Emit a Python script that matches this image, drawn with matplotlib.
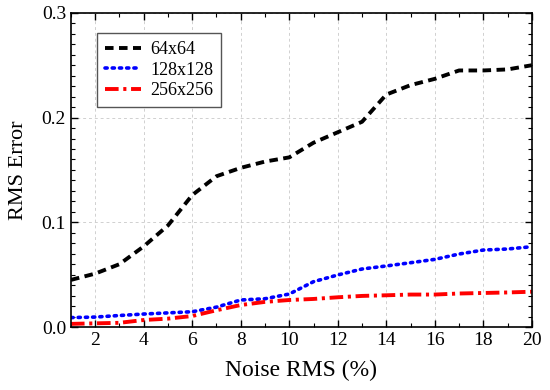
import numpy as np
import matplotlib
matplotlib.use("Agg")
import matplotlib.pyplot as plt
from matplotlib.ticker import MultipleLocator, FormatStrFormatter

noise = [1, 2, 3, 4, 5, 6, 7, 8, 9, 10, 11, 12, 13, 14, 15, 16, 17, 18, 19, 20]
err_64 = [0.045, 0.051, 0.060, 0.077, 0.097, 0.126, 0.144, 0.152, 0.158, 0.162,
          0.176, 0.186, 0.196, 0.222, 0.231, 0.237, 0.245, 0.245, 0.246, 0.250]
err_128 = [0.009, 0.0095, 0.011, 0.0124, 0.0135, 0.0146, 0.019, 0.0258, 0.027, 0.0315,
           0.0433, 0.0497, 0.0554, 0.0583, 0.0614, 0.0646, 0.0697, 0.0735, 0.0745, 0.0767]
err_256 = [0.003, 0.0035, 0.004, 0.0067, 0.008, 0.0105, 0.016, 0.021, 0.024, 0.0258,
           0.0268, 0.0284, 0.0297, 0.0303, 0.031, 0.031, 0.032, 0.0325, 0.033, 0.0337]
labels = ["64x64", "128x128", "256x256"]

plt.rcParams['font.family'] = ['Liberation Serif', 'DejaVu Serif']

fig = plt.figure(figsize=(5.5, 3.9), dpi=100)
ax = fig.add_axes([0.129, 0.1615, 0.838, 0.8055])

ax.plot(noise, err_64, color='black', linestyle=(0, (2.2, 1.4)), lw=2.8, label=labels[0])
ax.plot(noise, err_128, color='blue', linestyle=(0, (0.6, 1.4)), lw=2.6,
        dash_capstyle='round', label=labels[1])
ax.plot(noise, err_256, color='red', linestyle=(0, (3.5, 1.2, 0.8, 1.2)), lw=2.8,
        label=labels[2])

ax.set_xlim(1, 20)
ax.set_ylim(0, 0.3)
ax.xaxis.set_major_locator(MultipleLocator(2))
ax.xaxis.set_minor_locator(MultipleLocator(1))
ax.yaxis.set_major_locator(MultipleLocator(0.1))
ax.yaxis.set_minor_locator(MultipleLocator(0.01))
ax.yaxis.set_major_formatter(FormatStrFormatter('%.1f'))
ax.tick_params(which='both', direction='in', top=True, right=True, labelsize=14)
ax.tick_params(which='major', length=5, width=1)
ax.tick_params(which='minor', length=3, width=0.8)
for s in ax.spines.values():
    s.set_linewidth(1.2)
ax.grid(True, which='major', linestyle=(0, (3, 3)), color='#d0d0d0', lw=0.7)

ax.set_xlabel("Noise RMS (%)", fontsize=17, labelpad=8)
ax.set_ylabel("RMS Error", fontsize=16, labelpad=10)

leg = ax.legend(loc='upper left', bbox_to_anchor=(0.056, 0.936), borderaxespad=0,
                fontsize=13, fancybox=False, edgecolor='#555555', handlelength=2.0,
                handletextpad=0.5, borderpad=0.45, labelspacing=0.2, framealpha=1)
leg.get_frame().set_linewidth(1.0)

fig.savefig("out.png", dpi=100)
